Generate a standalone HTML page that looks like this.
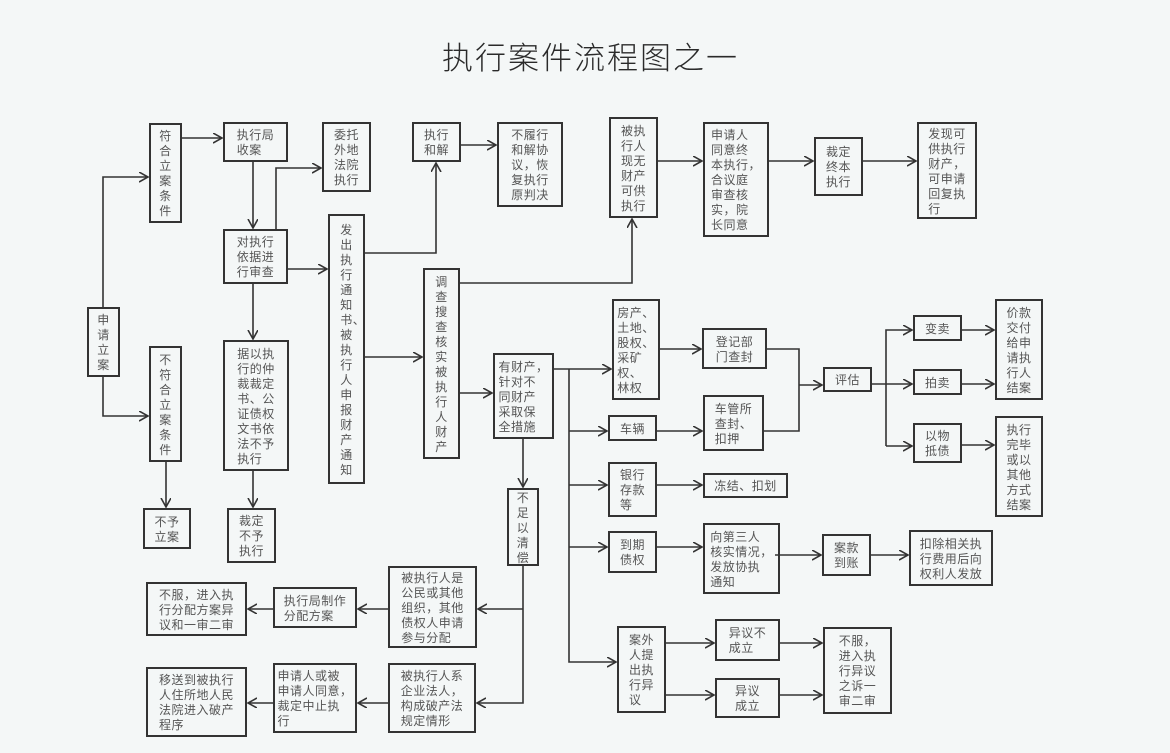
<!DOCTYPE html>
<html><head><meta charset="utf-8">
<style>
html,body{margin:0;padding:0;}
body{width:1170px;height:753px;background:#f4f7f7;position:relative;overflow:hidden;font-family:"Liberation Sans","Noto Sans CJK SC",sans-serif;}
.t{position:absolute;left:442px;top:36px;height:40px;line-height:40px;font-size:31px;letter-spacing:2px;color:#2a2a2a;white-space:nowrap;font-family:"Noto Sans CJK SC","WenQuanYi Zen Hei",sans-serif;font-weight:300;}
.b{position:absolute;box-sizing:border-box;border:2px solid #333;display:flex;align-items:center;justify-content:center;font-size:12px;line-height:15px;color:#555;letter-spacing:0.5px;font-family:"Noto Sans CJK SC","WenQuanYi Zen Hei",sans-serif;}
.b>div{text-align:left;white-space:nowrap;}
.v>div{text-align:center;}
svg{position:absolute;left:0;top:0;}
</style></head><body>
<div class="t">执行案件流程图之一</div>

<svg width="1170" height="753" viewBox="0 0 1170 753">
<defs>
<marker id="a" markerUnits="userSpaceOnUse" markerWidth="12" markerHeight="12" refX="9" refY="5" orient="auto">
<path d="M0,0 L9,5 L0,10" fill="none" stroke="#333" stroke-width="1.6"/>
</marker>
</defs>
<g fill="none" stroke="#333" stroke-width="1.6">
<polyline points="103,307 103,177 148,177" marker-end="url(#a)"/>
<polyline points="103,377 103,416 148,416" marker-end="url(#a)"/>
<polyline points="182,138 222,138" marker-end="url(#a)"/>
<polyline points="166,462 166,507" marker-end="url(#a)"/>
<polyline points="253,162 253,228" marker-end="url(#a)"/>
<polyline points="276,229 276,168 321,168" marker-end="url(#a)"/>
<polyline points="288,269 327,269" marker-end="url(#a)"/>
<polyline points="253,284 253,339" marker-end="url(#a)"/>
<polyline points="253,471 253,507" marker-end="url(#a)"/>
<polyline points="365,253 436,253 436,163" marker-end="url(#a)"/>
<polyline points="461,145 496,145" marker-end="url(#a)"/>
<polyline points="365,357 422,357" marker-end="url(#a)"/>
<polyline points="460,283 632,283 632,219" marker-end="url(#a)"/>
<polyline points="658,161 702,161" marker-end="url(#a)"/>
<polyline points="769,161 813,161" marker-end="url(#a)"/>
<polyline points="863,161 916,161" marker-end="url(#a)"/>
<polyline points="460,393 492,393" marker-end="url(#a)"/>
<polyline points="554,369 611,369" marker-end="url(#a)"/>
<polyline points="569,369 569,662 616,662" marker-end="url(#a)"/>
<polyline points="569,431 607,431" marker-end="url(#a)"/>
<polyline points="569,485 607,485" marker-end="url(#a)"/>
<polyline points="569,547 607,547" marker-end="url(#a)"/>
<polyline points="523,439 523,487" marker-end="url(#a)"/>
<polyline points="523,566 523,703 477,703" marker-end="url(#a)"/>
<polyline points="523,609 478,609" marker-end="url(#a)"/>
<polyline points="388,609 358,609" marker-end="url(#a)"/>
<polyline points="273,609 248,609" marker-end="url(#a)"/>
<polyline points="388,703 358,703" marker-end="url(#a)"/>
<polyline points="273,703 248,703" marker-end="url(#a)"/>
<polyline points="660,349 701,349" marker-end="url(#a)"/>
<polyline points="657,431 702,431" marker-end="url(#a)"/>
<polyline points="767,349 799,349 799,431 762,431"/>
<polyline points="799,385 822,385" marker-end="url(#a)"/>
<polyline points="872,384 912,384" marker-end="url(#a)"/>
<polyline points="886,446 886,330 912,330" marker-end="url(#a)"/>
<polyline points="886,446 912,446" marker-end="url(#a)"/>
<polyline points="962,330 994,330" marker-end="url(#a)"/>
<polyline points="962,384 994,384" marker-end="url(#a)"/>
<polyline points="962,445 994,445" marker-end="url(#a)"/>
<polyline points="657,485 702,485" marker-end="url(#a)"/>
<polyline points="657,547 702,547" marker-end="url(#a)"/>
<polyline points="775,555 821,555" marker-end="url(#a)"/>
<polyline points="871,555 908,555" marker-end="url(#a)"/>
<polyline points="666,643 714,643" marker-end="url(#a)"/>
<polyline points="666,695 714,695" marker-end="url(#a)"/>
<polyline points="780,643 822,643" marker-end="url(#a)"/>
<polyline points="780,695 822,695" marker-end="url(#a)"/>
</g>
</svg>

<div class="b v" style="left:87px;top:307px;width:33px;height:70px"><div>申<br>请<br>立<br>案</div></div>
<div class="b v" style="left:149px;top:123px;width:33px;height:100px"><div>符<br>合<br>立<br>案<br>条<br>件</div></div>
<div class="b v" style="left:149px;top:346px;width:33px;height:116px"><div>不<br>符<br>合<br>立<br>案<br>条<br>件</div></div>
<div class="b" style="left:143px;top:508px;width:48px;height:41px"><div>不予<br>立案</div></div>
<div class="b" style="left:223px;top:122px;width:65px;height:40px"><div>执行局<br>收案</div></div>
<div class="b" style="left:322px;top:122px;width:49px;height:70px"><div>委托<br>外地<br>法院<br>执行</div></div>
<div class="b" style="left:223px;top:229px;width:65px;height:55px"><div>对执行<br>依据进<br>行审查</div></div>
<div class="b v" style="left:328px;top:214px;width:37px;height:270px"><div>发<br>出<br>执<br>行<br>通<br>知<br>书<span style="position:absolute">、</span><br>被<br>执<br>行<br>人<br>申<br>报<br>财<br>产<br>通<br>知</div></div>
<div class="b" style="left:223px;top:340px;width:66px;height:131px"><div>据以执<br>行的仲<br>裁裁定<br>书、公<br>证债权<br>文书依<br>法不予<br>执行</div></div>
<div class="b" style="left:227px;top:508px;width:49px;height:55px"><div>裁定<br>不予<br>执行</div></div>
<div class="b" style="left:412px;top:122px;width:49px;height:40px"><div>执行<br>和解</div></div>
<div class="b" style="left:497px;top:122px;width:66px;height:85px"><div>不履行<br>和解协<br>议，恢<br>复执行<br>原判决</div></div>
<div class="b" style="left:609px;top:117px;width:49px;height:101px"><div>被执<br>行人<br>现无<br>财产<br>可供<br>执行</div></div>
<div class="b" style="left:703px;top:122px;width:66px;height:115px"><div>申请人<br>同意终<br>本执行，<br>合议庭<br>审查核<br>实，院<br>长同意</div></div>
<div class="b" style="left:814px;top:137px;width:49px;height:59px"><div>裁定<br>终本<br>执行</div></div>
<div class="b" style="left:917px;top:122px;width:60px;height:97px"><div>发现可<br>供执行<br>财产，<br>可申请<br>回复执<br>行</div></div>
<div class="b v" style="left:423px;top:268px;width:37px;height:191px"><div>调<br>查<br>搜<br>查<br>核<br>实<br>被<br>执<br>行<br>人<br>财<br>产</div></div>
<div class="b" style="left:493px;top:353px;width:61px;height:86px"><div>有财产，<br>针对不<br>同财产<br>采取保<br>全措施</div></div>
<div class="b" style="left:612px;top:299px;width:48px;height:101px"><div>房产、<br>土地、<br>股权、<br>采矿<br>权、<br>林权</div></div>
<div class="b" style="left:702px;top:328px;width:65px;height:41px"><div>登记部<br>门查封</div></div>
<div class="b" style="left:608px;top:415px;width:49px;height:26px"><div>车辆</div></div>
<div class="b" style="left:703px;top:395px;width:61px;height:56px"><div>车管所<br>查封、<br>扣押</div></div>
<div class="b" style="left:608px;top:462px;width:49px;height:55px"><div>银行<br>存款<br>等</div></div>
<div class="b" style="left:703px;top:473px;width:85px;height:25px"><div>冻结、扣划</div></div>
<div class="b" style="left:608px;top:531px;width:49px;height:42px"><div>到期<br>债权</div></div>
<div class="b" style="left:703px;top:523px;width:77px;height:71px"><div>向第三人<br>核实情况，<br>发放协执<br>通知</div></div>
<div class="b" style="left:822px;top:534px;width:49px;height:42px"><div>案款<br>到账</div></div>
<div class="b" style="left:909px;top:530px;width:84px;height:56px"><div>扣除相关执<br>行费用后向<br>权利人发放</div></div>
<div class="b" style="left:617px;top:626px;width:49px;height:87px"><div>案外<br>人提<br>出执<br>行异<br>议</div></div>
<div class="b" style="left:715px;top:619px;width:65px;height:42px"><div>异议不<br>成立</div></div>
<div class="b" style="left:715px;top:678px;width:65px;height:40px"><div>异议<br>成立</div></div>
<div class="b" style="left:823px;top:627px;width:69px;height:87px"><div>不服，<br>进入执<br>行异议<br>之诉一<br>审二审</div></div>
<div class="b" style="left:823px;top:367px;width:49px;height:25px"><div>评估</div></div>
<div class="b" style="left:913px;top:315px;width:49px;height:26px"><div>变卖</div></div>
<div class="b" style="left:913px;top:369px;width:49px;height:26px"><div>拍卖</div></div>
<div class="b" style="left:913px;top:423px;width:49px;height:40px"><div>以物<br>抵债</div></div>
<div class="b" style="left:995px;top:299px;width:48px;height:101px"><div>价款<br>交付<br>给申<br>请执<br>行人<br>结案</div></div>
<div class="b" style="left:995px;top:416px;width:48px;height:101px"><div>执行<br>完毕<br>或以<br>其他<br>方式<br>结案</div></div>
<div class="b v" style="left:507px;top:488px;width:32px;height:78px"><div>不<br>足<br>以<br>清<br>偿</div></div>
<div class="b" style="left:388px;top:566px;width:89px;height:82px"><div>被执行人是<br>公民或其他<br>组织，其他<br>债权人申请<br>参与分配</div></div>
<div class="b" style="left:273px;top:587px;width:84px;height:41px"><div>执行局制作<br>分配方案</div></div>
<div class="b" style="left:146px;top:582px;width:101px;height:54px"><div>不服，进入执<br>行分配方案异<br>议和一审二审</div></div>
<div class="b" style="left:388px;top:663px;width:88px;height:70px"><div>被执行人系<br>企业法人，<br>构成破产法<br>规定情形</div></div>
<div class="b" style="left:273px;top:663px;width:84px;height:70px"><div>申请人或被<br>申请人同意，<br>裁定中止执<br>行</div></div>
<div class="b" style="left:146px;top:667px;width:101px;height:70px"><div>移送到被执行<br>人住所地人民<br>法院进入破产<br>程序</div></div>
</body></html>
